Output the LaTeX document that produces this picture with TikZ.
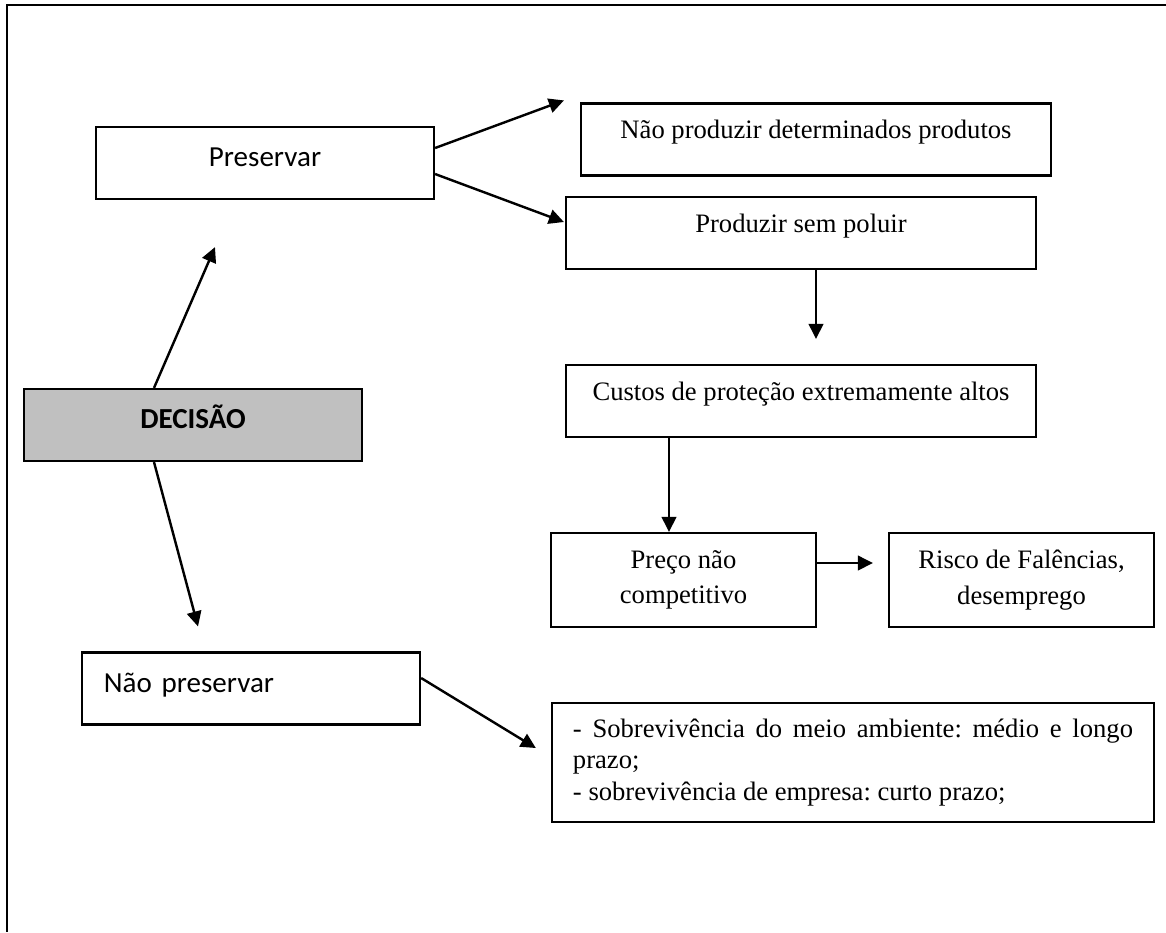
\documentclass[tikz,border=0pt]{standalone}
\usepackage{fontspec}
\setmainfont{Liberation Serif}
\newfontfamily\calibri{Carlito}
\usepackage{tikz}
\usetikzlibrary{arrows.meta,calc}
\definecolor{decgrey}{HTML}{C0C0C0}
\frenchspacing

\begin{document}
\begin{tikzpicture}[x=0.4132pt, y=-0.4132pt,
  sbox/.style={draw=black, line width=0.9pt, inner xsep=0pt, inner ysep=0pt,
    font=\calibri\fontsize{12}{14}\selectfont, text height=16.5pt, text depth=13.25pt,
    minimum width=139.66pt},
  tbox/.style={draw=black, line width=0.9pt, inner xsep=0pt, inner ysep=0pt,
    font=\fontsize{11}{12.9}\selectfont, text height=14.5pt, text depth=15.25pt,
    minimum width=194.2pt},
  mbox/.style={draw=black, line width=0.9pt, align=center, inner sep=0pt,
    font=\fontsize{11}{14.7}\selectfont, minimum width=109.5pt, minimum height=38.84pt},
  arr/.style={line width=1pt, -{Triangle[length=6.2pt,width=6pt]}}]
  \useasboundingbox (0,0) rectangle (1166,932);
  % page frame (top and left only)
  \draw[line width=1.2pt] (1166,5) -- (7,5) -- (7,932);

  \node[sbox] (pres) at (265,163) {Preservar};
  \node[sbox, fill=decgrey, font=\calibri\bfseries\fontsize{12}{14}\selectfont] (dec) at (193,425) {DECISÃO};
  \node[sbox, text width=121.5pt, inner xsep=9.1pt, align=left] (npres) at (251,688.5) {Não preservar};

  \node[tbox] (nprod)  at (816,139.5) {Não produzir determinados produtos};
  \node[tbox] (prod)   at (801,233)   {Produzir sem poluir};
  \node[tbox] (custos) at (801,401)   {Custos de proteção extremamente altos};
  \node[mbox] (preco)  at (683.5,580)  {Preço não\\competitivo};
  \node[mbox] (risco)  at (1021.5,580) {Risco de Falências,\\desemprego};
  \node[draw=black, line width=0.9pt, inner xsep=8.7pt, inner ysep=0pt,
    minimum width=248.75pt, minimum height=49.17pt, align=left,
    font=\fontsize{11}{13}\selectfont] (sobr) at (853,762.5)
    {\makebox[231.4pt][s]{- Sobrevivência do meio ambiente: médio e longo}\\prazo;\\- sobrevivência de empresa: curto prazo;};

  \draw[arr] ($(pres.east)+(0,-15)$) -- ($(nprod.north west)+(-16,-2)$);
  \draw[arr] ($(pres.east)+(0,11)$) -- ($(prod.west)+(-1,-11)$);
  \draw[arr] ($(prod.south)+(15,0)$) -- ($(custos.north)+(15,-25)$);
  \draw[arr] ($(custos.south)+(-132,0)$) -- ($(preco.north)+(-14.5,0)$);
  \draw[arr] ($(preco.east)+(0,-17)$) -- ($(risco.west)+(-15,-17)$);
  \draw[arr] ($(dec.north)+(-39,0)$) -- ($(pres.south)+(-50,47)$);
  \draw[arr] ($(dec.south)+(-39,0)$) -- ($(npres.north)+(-53,-25)$);
  \draw[arr] ($(npres.east)+(0,-10.5)$) -- ($(sobr.west)+(-15,-14.5)$);
\end{tikzpicture}
\end{document}
